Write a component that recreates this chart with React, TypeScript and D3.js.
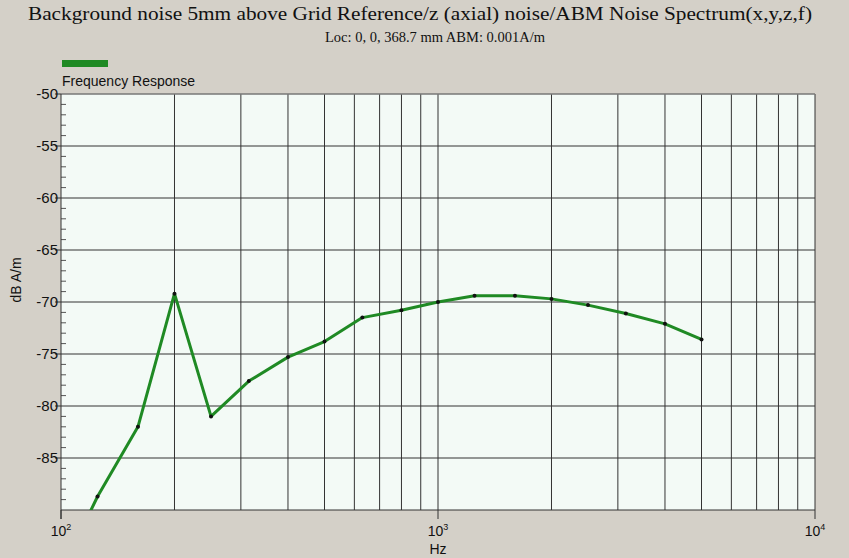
import * as d3 from "d3";

const freqs = [100, 125, 160, 200, 250, 315, 400, 500, 630, 800, 1000, 1250, 1600, 2000, 2500, 3150, 4000, 5000];
const levels = [-96, -88.7, -82.0, -69.2, -81.0, -77.6, -75.3, -73.8, -71.5, -70.8, -70.0, -69.4, -69.4, -69.7, -70.3, -71.1, -72.1, -73.6];
const yTicks = [-50, -55, -60, -65, -70, -75, -80, -85];
const xDecades = [100, 1000, 10000];

const W = 849;
const H = 558;
const left = 61;
const right = 815;
const top = 94;
const bottom = 510;

export default function App() {
  const x = d3.scaleLog().domain([100, 10000]).range([left, right]);
  const y = d3.scaleLinear().domain([-90, -50]).range([bottom, top]);

  const gridX: number[] = [];
  for (let d = 100; d < 10000; d *= 10) {
    for (let k = 2; k <= 10; k++) gridX.push(d * k);
  }
  const gridY = d3.range(-85, -49, 5);
  const minorY = d3.range(-89, -50, 1).filter((v) => v % 5 !== 0);

  const pts = freqs.map((f, i) => ({ f, v: levels[i] }));
  const line = d3
    .line<{ f: number; v: number }>()
    .x((d) => x(d.f))
    .y((d) => y(d.v));

  return (
    <svg width={W} height={H} style={{ position: "absolute", left: 0, top: 0 }}>
      <defs>
        <clipPath id="plot">
          <rect x={left} y={top} width={right - left} height={bottom - top} />
        </clipPath>
      </defs>
      <rect width={W} height={H} fill="#d4d0c8" />
      <text x={420} y={20} textAnchor="middle" fontFamily="Liberation Serif" fontSize={19} textLength={784} lengthAdjust="spacingAndGlyphs" fill="#111">
        Background noise 5mm above Grid Reference/z (axial) noise/ABM Noise Spectrum(x,y,z,f)
      </text>
      <text x={435} y={42} textAnchor="middle" fontFamily="Liberation Serif" fontSize={15} textLength={220} lengthAdjust="spacingAndGlyphs" fill="#111">
        Loc: 0, 0, 368.7 mm ABM: 0.001A/m
      </text>

      <rect x={62} y={60} width={46} height={7} fill="#1f8a24" />
      <text x={62} y={86} fontFamily="Liberation Sans" fontSize={14} fill="#111">
        Frequency Response
      </text>

      <rect x={left} y={top} width={right - left} height={bottom - top} fill="#f3faf6" />

      {gridX.map((f) => (
        <line key={f} x1={x(f)} x2={x(f)} y1={top} y2={bottom} stroke="#333" strokeWidth={1} />
      ))}
      {gridY.map((v) => (
        <line key={v} x1={left} x2={right} y1={y(v)} y2={y(v)} stroke="#333" strokeWidth={1} />
      ))}
      {minorY.map((v) => (
        <line key={v} x1={left} x2={left + 5} y1={y(v)} y2={y(v)} stroke="#555" strokeWidth={1} />
      ))}
      <line x1={left} x2={right} y1={top} y2={top} stroke="#9a9a9a" strokeWidth={1} />
      <line x1={left} x2={left} y1={top} y2={bottom + 9} stroke="#333" strokeWidth={1} />
      <line x1={left} x2={right} y1={bottom} y2={bottom} stroke="#333" strokeWidth={1} />

      {yTicks.map((v) => (
        <g key={v}>
          <line x1={left - 6} x2={left} y1={y(v)} y2={y(v)} stroke="#333" />
          <text x={left - 3} y={y(v) + 5} textAnchor="end" fontFamily="Liberation Sans" fontSize={15} fill="#111">
            {v}
          </text>
        </g>
      ))}
      {xDecades.map((f) => (
        <g key={f}>
          <line x1={x(f)} x2={x(f)} y1={bottom} y2={bottom + 9} stroke="#333" />
          <text x={x(f)} y={bottom + 26} textAnchor="middle" fontFamily="Liberation Sans" fontSize={14} fill="#111">
            10
            <tspan fontSize={9} dy={-6}>
              {Math.round(Math.log10(f))}
            </tspan>
          </text>
        </g>
      ))}
      <text x={x(1000)} y={bottom + 44} textAnchor="middle" fontFamily="Liberation Sans" fontSize={14} fill="#111">
        Hz
      </text>
      <text transform={`translate(21,${(top + bottom) / 2 - 22}) rotate(-90)`} textAnchor="middle" fontFamily="Liberation Sans" fontSize={14} fill="#111">
        dB A/m
      </text>

      <g clipPath="url(#plot)">
        <path d={line(pts) ?? ""} fill="none" stroke="#1f8a24" strokeWidth={3} strokeLinejoin="round" />
        {pts.map((p) => (
          <circle key={p.f} cx={x(p.f)} cy={y(p.v)} r={2} fill="#111" />
        ))}
      </g>
    </svg>
  );
}
